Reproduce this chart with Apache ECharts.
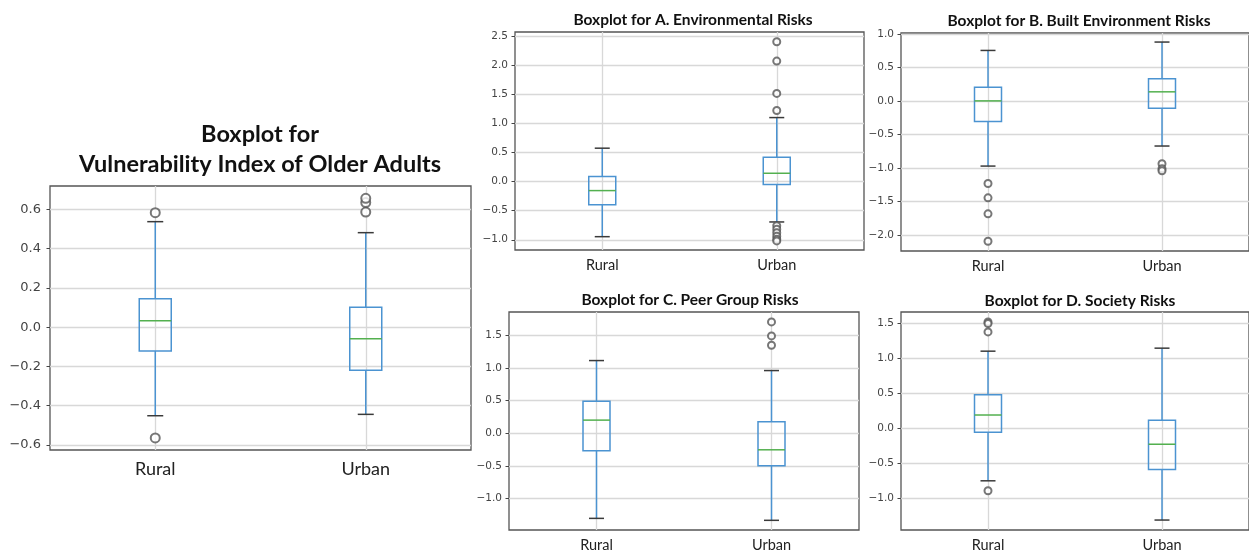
<!DOCTYPE html>
<html>
<head>
<meta charset="utf-8">
<script src="https://cdn.jsdelivr.net/npm/echarts@6/dist/echarts.min.js"></script>
<style>
html,body{margin:0;padding:0;background:#fff;}
#chart{width:1249px;height:558px;}
</style>
</head>
<body>
<div id="chart"></div>
<script>
// ---------- DATA ----------
const categories = ['Rural', 'Urban'];

const viTitle = 'Boxplot for\nVulnerability Index of Older Adults';
const viTicks = [-0.6, -0.4, -0.2, 0.0, 0.2, 0.4, 0.6];
const viRuralBox = [-0.451, -0.122, 0.033, 0.145, 0.537];   // [low, Q1, median, Q3, high]
const viUrbanBox = [-0.444, -0.220, -0.059, 0.101, 0.481];
const viRuralOut = [0.583, -0.564];
const viUrbanOut = [0.586, 0.634, 0.656];

const aTitle = 'Boxplot for A. Environmental Risks';
const aTicks = [-1.0, -0.5, 0.0, 0.5, 1.0, 1.5, 2.0, 2.5];
const aRuralBox = [-0.947, -0.400, -0.155, 0.086, 0.574];
const aUrbanBox = [-0.694, -0.052, 0.143, 0.419, 1.100];
const aRuralOut = [];
const aUrbanOut = [2.404, 2.071, 1.515, 1.222, -0.76, -0.82, -0.88, -0.94, -0.99, -1.02];

const bTitle = 'Boxplot for B. Built Environment Risks';
const bTicks = [-2.0, -1.5, -1.0, -0.5, 0.0, 0.5, 1.0];
const bRuralBox = [-0.972, -0.309, 0.000, 0.204, 0.752];
const bUrbanBox = [-0.673, -0.110, 0.135, 0.329, 0.877];
const bRuralOut = [-1.231, -1.445, -1.684, -2.093];
const bUrbanOut = [-0.937, -1.011, -1.041];

const cTitle = 'Boxplot for C. Peer Group Risks';
const cTicks = [-1.0, -0.5, 0.0, 0.5, 1.0, 1.5];
const cRuralBox = [-1.301, -0.267, 0.202, 0.492, 1.113];
const cUrbanBox = [-1.331, -0.496, -0.252, 0.176, 0.960];
const cRuralOut = [];
const cUrbanOut = [1.704, 1.490, 1.347];

const dTitle = 'Boxplot for D. Society Risks';
const dTicks = [-1.0, -0.5, 0.0, 0.5, 1.0, 1.5];
const dRuralBox = [-0.744, -0.051, 0.195, 0.485, 1.106];
const dUrbanBox = [-1.304, -0.583, -0.222, 0.120, 1.149];
const dRuralOut = [1.524, 1.500, 1.381, -0.886];
const dUrbanOut = [];

// ---------- LAYOUT ----------
const panels = [
  {title: viTitle, ticks: viTicks, boxes: [viRuralBox, viUrbanBox], outs: [viRuralOut, viUrbanOut],
   grid: {left: 50, top: 186, width: 421, height: 264}, min: -0.6255, max: 0.7186, big: true,
   titlePos: {left: 255, top: 114}},
  {title: aTitle, ticks: aTicks, boxes: [aRuralBox, aUrbanBox], outs: [aRuralOut, aUrbanOut],
   grid: {left: 515, top: 32, width: 349, height: 218}, min: -1.176, max: 2.571, big: false,
   titlePos: {left: 688, top: 6}},
  {title: bTitle, ticks: bTicks, boxes: [bRuralBox, bUrbanBox], outs: [bRuralOut, bUrbanOut],
   grid: {left: 901, top: 33, width: 351, height: 218}, min: -2.238, max: 1.012, big: false,
   titlePos: {left: 1074, top: 7}},
  {title: cTitle, ticks: cTicks, boxes: [cRuralBox, cUrbanBox], outs: [cRuralOut, cUrbanOut],
   grid: {left: 509, top: 312, width: 350, height: 218}, min: -1.479, max: 1.856, big: false,
   titlePos: {left: 685, top: 286}},
  {title: dTitle, ticks: dTicks, boxes: [dRuralBox, dUrbanBox], outs: [dRuralOut, dUrbanOut],
   grid: {left: 901, top: 312, width: 350, height: 218}, min: -1.446, max: 1.665, big: false,
   titlePos: {left: 1075, top: 287}}
];

const BLUE = '#4b93d1', GREEN = '#53b04f', CAP = '#3a3a3a', GRIDC = '#d8d8d8', FRAME = '#555';
const fmt = v => (v < 0 ? '\u2212' + Math.abs(v).toFixed(1) : v.toFixed(1));

const option = {animation: false, backgroundColor: '#fff', title: [], grid: [], xAxis: [], yAxis: [], series: []};

panels.forEach((p, i) => {
  option.title.push({
    text: p.title, left: p.titlePos.left, top: p.titlePos.top, textAlign: 'center',
    textStyle: {fontFamily: 'Lato', fontWeight: 'bold', fontSize: p.big ? 23.5 : 15.5, color: '#111',
                lineHeight: p.big ? 30 : 18}
  });
  option.grid.push(Object.assign({show: true, borderColor: FRAME, borderWidth: 1.3, backgroundColor: '#fff'}, p.grid));
  option.xAxis.push({
    type: 'category', gridIndex: i, data: categories, boundaryGap: true,
    axisLine: {show: false},
    axisTick: {show: true, alignWithLabel: true, length: 4, lineStyle: {color: '#444'}},
    axisLabel: {fontFamily: 'Lato', fontSize: p.big ? 18 : 14.5, color: '#222', margin: p.big ? 10 : 8},
    splitLine: {show: false}
  });
  option.yAxis.push({
    type: 'value', gridIndex: i, min: p.min, max: p.max,
    axisLine: {show: false},
    axisTick: {show: true, length: 3.5, customValues: p.ticks, lineStyle: {color: '#444'}},
    axisLabel: {customValues: p.ticks, formatter: fmt, fontFamily: 'DejaVu Sans',
                fontSize: p.big ? 13 : 10.5, color: '#444', margin: p.big ? 9 : 7},
    splitLine: {show: true, lineStyle: {color: GRIDC, width: 1.3}}
  });
  // outliers + vertical category gridlines
  const outData = [];
  p.outs.forEach((arr, ci) => arr.forEach(v => outData.push([categories[ci], v])));
  option.series.push({
    type: 'scatter', xAxisIndex: i, yAxisIndex: i, z: 4, data: outData,
    symbol: 'emptyCircle', symbolSize: p.big ? 9 : 7,
    itemStyle: {color: '#555', borderColor: '#555', borderWidth: 1.4},
    markLine: {silent: true, z: 1, symbol: 'none', label: {show: false},
               lineStyle: {color: GRIDC, width: 1.3, type: 'solid'},
               emphasis: {disabled: true},
               data: categories.map(c => ({xAxis: c}))}
  });
  // boxes
  const boxData = p.boxes.map((b, ci) => [ci].concat(b));
  const bw = p.big ? 32 : 27, cw = p.big ? 16 : 15;
  option.series.push({
    type: 'custom', xAxisIndex: i, yAxisIndex: i, z: 3, data: boxData,
    encode: {x: 0, y: [1, 2, 3, 4, 5]},
    renderItem: (params, api) => {
      const xi = api.value(0);
      const lo = api.coord([xi, api.value(1)]);
      const q1 = api.coord([xi, api.value(2)]);
      const md = api.coord([xi, api.value(3)]);
      const q3 = api.coord([xi, api.value(4)]);
      const hi = api.coord([xi, api.value(5)]);
      const x = lo[0];
      const ls = (c, w) => ({stroke: c, lineWidth: w, fill: null});
      return {type: 'group', children: [
        {type: 'line', shape: {x1: x, y1: hi[1], x2: x, y2: q3[1]}, style: ls(BLUE, 1.5)},
        {type: 'line', shape: {x1: x, y1: q1[1], x2: x, y2: lo[1]}, style: ls(BLUE, 1.5)},
        {type: 'line', shape: {x1: x - cw / 2, y1: hi[1], x2: x + cw / 2, y2: hi[1]}, style: ls(CAP, 1.5)},
        {type: 'line', shape: {x1: x - cw / 2, y1: lo[1], x2: x + cw / 2, y2: lo[1]}, style: ls(CAP, 1.5)},
        {type: 'rect', shape: {x: x - bw / 2, y: q3[1], width: bw, height: q1[1] - q3[1]},
         style: {stroke: BLUE, lineWidth: 1.5, fill: 'rgba(255,255,255,0)'}},
        {type: 'line', shape: {x1: x - bw / 2, y1: md[1], x2: x + bw / 2, y2: md[1]}, style: ls(GREEN, 1.5)}
      ]};
    }
  });
});

const chart = echarts.init(document.getElementById('chart'), null, {renderer: 'canvas'});
chart.setOption(option);
</script>
</body>
</html>
